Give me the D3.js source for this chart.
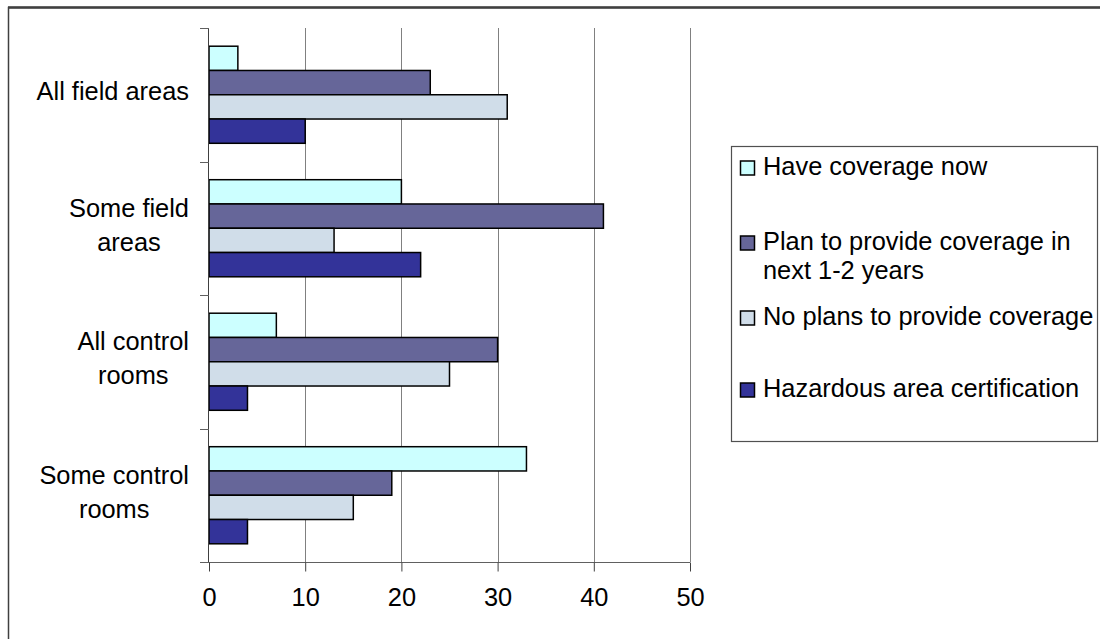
<!DOCTYPE html>
<html>
<head>
<meta charset="utf-8">
<script src="https://cdn.jsdelivr.net/npm/d3@7"></script>
<style>
  body { margin: 0; background: #fff; }
  svg { display: block; }
  text { font-family: "Liberation Sans", Arial, sans-serif; fill: #000; }
</style>
</head>
<body>
<svg id="chart" width="1100" height="639"></svg>
<script>
// Survey categories (top to bottom) and their wrapped label lines
const categories = ["All field areas", "Some field areas", "All control rooms", "Some control rooms"];
const categoryLines = [["All field areas"], ["Some field", "areas"], ["All control", "rooms"], ["Some control", "rooms"]];

// Series, in drawing order within each group
const seriesNames = ["Have coverage now", "Plan to provide coverage in next 1-2 years", "No plans to provide coverage", "Hazardous area certification"];
const legendLines = [["Have coverage now"], ["Plan to provide coverage in", "next 1-2 years"], ["No plans to provide coverage"], ["Hazardous area certification"]];

// Values per category
const haveCoverage = [3, 20, 7, 33];
const planCoverage = [23, 41, 30, 19];
const noPlans      = [31, 13, 25, 15];
const hazardous    = [10, 22, 4, 4];

const xTicks = [0, 10, 20, 30, 40, 50];
const colors = ["#CCFFFF", "#666699", "#D0DDE9", "#333399"];

const seriesValues = [haveCoverage, planCoverage, noPlans, hazardous];
const rows = [];
categories.forEach((c, ci) => {
  seriesNames.forEach((s, si) => rows.push({ category: c, series: s, value: seriesValues[si][ci], color: colors[si] }));
});

const svg = d3.select("#chart");
const FONT = 25.4;

// Outer chart frame (extends past the right and bottom edges)
svg.append("rect")
  .attr("x", 8.5).attr("y", 7.5).attr("width", 1120).attr("height", 660)
  .attr("fill", "none").attr("stroke", "#404040").attr("stroke-width", 1.5);
svg.append("line")
  .attr("x1", 8).attr("x2", 1100).attr("y1", 7.5).attr("y2", 7.5)
  .attr("stroke", "#404040").attr("stroke-width", 2.5);

const plot = { left: 209, right: 690, top: 28, bottom: 562 };

const x = d3.scaleLinear().domain([0, 50]).range([plot.left, plot.right]);
const y0 = d3.scaleBand().domain(categories).range([plot.top, plot.bottom]).padding(0);
const y1 = d3.scaleBand().domain(seriesNames).range([0, y0.bandwidth()])
  .paddingInner(0).paddingOuter(0.75);

// Vertical gridlines
svg.append("g").selectAll("line")
  .data(xTicks.filter(t => t > 0))
  .join("line")
  .attr("x1", d => Math.round(x(d)) + 0.5).attr("x2", d => Math.round(x(d)) + 0.5)
  .attr("y1", plot.top).attr("y2", plot.bottom)
  .attr("stroke", "#808080").attr("stroke-width", 1);

// Bars
svg.append("g").selectAll("rect")
  .data(rows)
  .join("rect")
  .attr("x", x(0))
  .attr("y", d => y0(d.category) + y1(d.series))
  .attr("width", d => x(d.value) - x(0))
  .attr("height", y1.bandwidth())
  .attr("fill", d => d.color)
  .attr("stroke", "#000").attr("stroke-width", 1.5);

// Bottom value axis
const xAxis = svg.append("g")
  .attr("transform", `translate(0,${plot.bottom + 0.5})`)
  .call(d3.axisBottom(x).tickValues(xTicks).tickSizeInner(9).tickSizeOuter(0).tickPadding(12));
xAxis.select(".domain").attr("stroke", "#606060").attr("d", `M${plot.left - 9},0H${plot.right}`);
xAxis.selectAll(".tick line").attr("stroke", "#404040");
xAxis.selectAll(".tick text")
  .attr("font-size", FONT)
  .attr("font-family", "Liberation Sans, Arial, sans-serif")
  .attr("fill", "#000")
  .attr("dy", "0.9em");

// Left category axis with ticks at the band boundaries
const bounds = categories.map(c => y0(c)).concat([plot.bottom]);
svg.append("line")
  .attr("x1", plot.left - 0.5).attr("x2", plot.left - 0.5)
  .attr("y1", plot.top).attr("y2", plot.bottom)
  .attr("stroke", "#404040").attr("stroke-width", 1);
svg.append("g").selectAll("line")
  .data(bounds)
  .join("line")
  .attr("x1", plot.left - 9).attr("x2", plot.left)
  .attr("y1", d => Math.round(d) + 0.5).attr("y2", d => Math.round(d) + 0.5)
  .attr("stroke", "#606060").attr("stroke-width", 1);

// Category labels: lines centred on each other, block right-aligned
const labelRight = 189;
const lineGap = 34;
categories.forEach((c, ci) => {
  const lines = categoryLines[ci];
  const cy = y0(c) + y0.bandwidth() / 2;
  const g = svg.append("g");
  const texts = g.selectAll("text").data(lines).join("text")
    .attr("font-size", FONT)
    .attr("text-anchor", "middle")
    .text(d => d);
  const widths = [];
  texts.each(function () { widths.push(this.getComputedTextLength()); });
  const maxW = d3.max(widths);
  const firstBaseline = lines.length === 1 ? cy + 5.5 : cy - 11.5;
  texts.attr("x", labelRight - maxW / 2)
    .attr("y", (d, i) => firstBaseline + i * lineGap);
});

// Legend
const legend = svg.append("g");
legend.append("rect")
  .attr("x", 731.5).attr("y", 146.5).attr("width", 366).attr("height", 295)
  .attr("fill", "#fff").attr("stroke", "#505050").attr("stroke-width", 1.2);
const legendBaselines = [175, 250, 325, 397];
const legendLineGap = 28.5;
seriesNames.forEach((s, si) => {
  const base = legendBaselines[si];
  legend.append("rect")
    .attr("x", 740.5).attr("y", base - 14).attr("width", 14).attr("height", 14)
    .attr("fill", colors[si]).attr("stroke", "#000").attr("stroke-width", 1.5);
  legend.append("g").selectAll("text").data(legendLines[si]).join("text")
    .attr("x", 763)
    .attr("y", (d, i) => base + i * legendLineGap)
    .attr("font-size", FONT)
    .text(d => d);
});
</script>
</body>
</html>
